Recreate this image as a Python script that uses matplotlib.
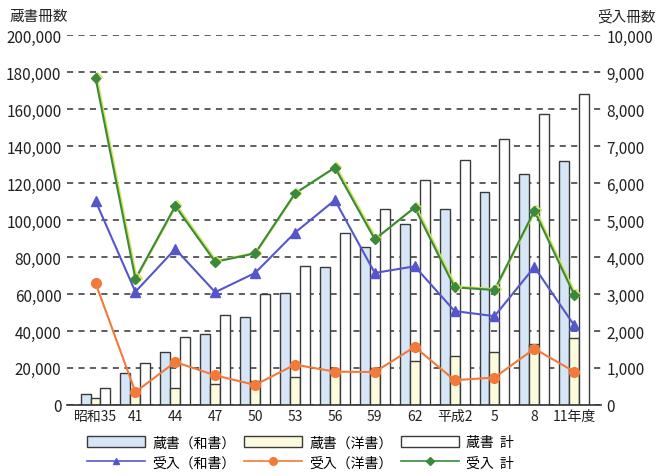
import numpy as np
import matplotlib
matplotlib.use("Agg")
import matplotlib.pyplot as plt
import matplotlib.patheffects as pe
from matplotlib.lines import Line2D
from matplotlib.patches import Patch
from matplotlib.ticker import FuncFormatter

plt.rcParams["font.family"] = ["Noto Sans CJK JP", "DejaVu Sans"]

years = ["昭和35", "41", "44", "47", "50", "53", "56", "59", "62", "平成2", "5", "8", "11年度"]

# 蔵書冊数 (left axis)
zousho_wa = [5800, 17300, 28500, 38200, 47400, 60400, 74800, 85700, 97900, 106000, 115000, 125000, 132200]
zousho_yo = [3600, 5800, 8900, 11400, 13000, 15300, 18000, 20200, 23500, 26200, 28500, 32700, 36300]
zousho_total = [9000, 22900, 37000, 48600, 60000, 75300, 92800, 106000, 121700, 132500, 143800, 157400, 168000]

# 受入冊数 (right axis)
ukeire_wa = [5520, 3060, 4220, 3050, 3570, 4660, 5540, 3570, 3750, 2540, 2400, 3730, 2150]
ukeire_yo = [3300, 350, 1160, 800, 540, 1090, 900, 890, 1570, 670, 740, 1520, 900]
ukeire_total = [8850, 3410, 5380, 3870, 4100, 5720, 6420, 4480, 5340, 3180, 3110, 5250, 2980]

c_wa_bar = "#d6e6f6"
c_yo_bar = "#fdfbdd"
c_edge = "#3a3a3a"
c_wa_line = "#5656cc"
c_yo_line = "#f27a3a"
c_tot_line = "#3b8a3b"

fig = plt.figure(figsize=(6.59, 4.77), dpi=100)
ax = fig.add_axes([0.1017, 0.149, 0.8103, 0.775])
x = np.arange(len(years))
w = 0.25

ax.bar(x - w, zousho_wa, w, color=c_wa_bar, edgecolor=c_edge, linewidth=1)
ax.bar(x, zousho_yo, w, color=c_yo_bar, edgecolor=c_edge, linewidth=1)
ax.bar(x + w, zousho_total, w, color="white", edgecolor=c_edge, linewidth=1)

ax.set_xlim(-0.714, 12.67)
ax.set_ylim(0, 200000)
ax.set_yticks(np.arange(0, 200001, 20000))
ax.yaxis.set_major_formatter(FuncFormatter(lambda v, p: f"{int(v):,}"))
ax.set_axisbelow(True)
ax.grid(axis="y", linestyle=(0, (4, 3.5)), color="#333333", linewidth=1.1)
ax.set_xticks(x, years)
ax.tick_params(axis="both", length=0, labelsize=11, colors="#222222")
ax.tick_params(axis="x", pad=3, labelsize=10)
ax.tick_params(axis="y", pad=4)
for s in ["top", "right", "left"]:
    ax.spines[s].set_visible(False)
ax.spines["bottom"].set_color("#333333")
ax.spines["bottom"].set_linewidth(1.2)

ax2 = ax.twinx()
ax2.set_ylim(0, 10000)
ax2.set_yticks(np.arange(0, 10001, 1000))
ax2.yaxis.set_major_formatter(FuncFormatter(lambda v, p: f"{int(v):,}"))
ax2.tick_params(axis="y", length=0, labelsize=11, colors="#222222", pad=4)
for s in ax2.spines.values():
    s.set_visible(False)

ax2.plot(x, ukeire_wa, color=c_wa_line, lw=1.5, marker="^", ms=6.5)
ax2.plot(x, ukeire_yo, color=c_yo_line, lw=1.5, marker="o", ms=7)
ax2.plot(x, ukeire_total, color=c_tot_line, lw=1.5, marker="D", ms=5,
         path_effects=[pe.SimpleLineShadow(offset=(0.9, 0.6), shadow_color="#d4e45a", alpha=1),
                       pe.Normal()])

fig.text(10 / 659, 1 - 17 / 477, "蔵書冊数", ha="left", va="center", fontsize=10.5, color="#222222")
fig.text(656 / 659, 1 - 17 / 477, "受入冊数", ha="right", va="center", fontsize=10.5, color="#222222")

handles = [
    Patch(facecolor=c_wa_bar, edgecolor=c_edge, linewidth=1),
    Line2D([], [], color=c_wa_line, lw=1.2, marker="^", ms=5),
    Patch(facecolor=c_yo_bar, edgecolor=c_edge, linewidth=1),
    Line2D([], [], color=c_yo_line, lw=1.2, marker="o", ms=5.5),
    Patch(facecolor="white", edgecolor=c_edge, linewidth=1),
    Line2D([], [], color=c_tot_line, lw=1.2, marker="D", ms=4),
]
labels = ["蔵書（和書）", "受入（和書）", "蔵書（洋書）", "受入（洋書）", "蔵書  計", "受入  計"]
fig.legend(handles, labels, ncol=3, loc="center left", bbox_to_anchor=(87 / 659, 1 - 453.5 / 477),
           frameon=False, fontsize=10, handlelength=4.2, handleheight=0.9, handletextpad=0.5,
           columnspacing=0.6, labelspacing=0.45, borderpad=0, borderaxespad=0)

fig.savefig("out.png", dpi=100)
